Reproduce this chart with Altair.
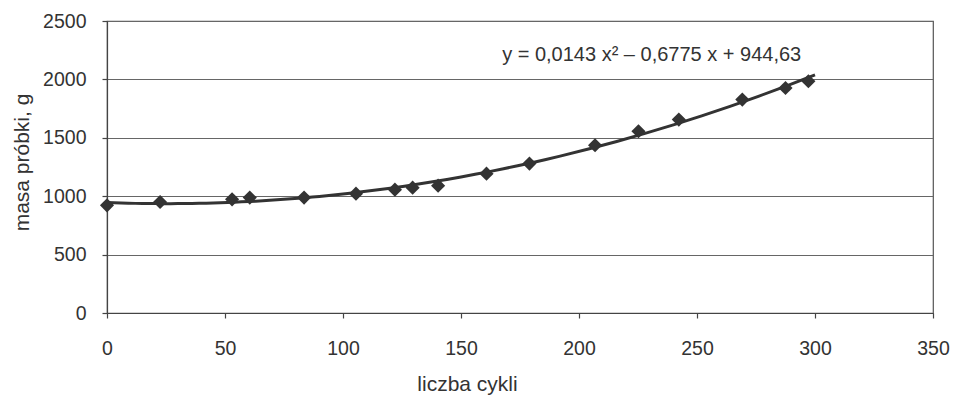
import altair as alt
import pandas as pd

# data
cycles = [0, 22.5, 53, 60.5, 83.5, 105.5, 122, 129.5, 140.3, 160.8, 179, 206.8, 225.2, 242.3, 269.2, 287.5, 297.2]
mass = [922, 950, 973, 988, 988, 1022, 1056, 1073, 1090, 1193, 1279, 1436, 1556, 1656, 1827, 1926, 1984]

x_ticks = [0, 50, 100, 150, 200, 250, 300, 350]
y_ticks = [0, 500, 1000, 1500, 2000, 2500]

equation_text = ["y = 0,0143 x\u00b2 \u2013 0,6775 x + 944,63"]
equation_pos_x = [230.8]
equation_pos_y = [2206]

df = pd.DataFrame({"x": cycles, "y": mass})
eq = pd.DataFrame({"x": equation_pos_x, "y": equation_pos_y, "t": equation_text})

FONT = "Liberation Sans"
INK = "#333333"

xs = alt.Scale(domain=[0, 350], nice=False)
ys = alt.Scale(domain=[0, 2500], nice=False)

x_enc = alt.X("x:Q", scale=xs, axis=alt.Axis(
    values=x_ticks, title="liczba cykli", grid=False, format="d", labelFlush=False,
    titleX=360, titleY=77, titleBaseline="alphabetic", titleAnchor="start", titleAlign="center",
    labelPadding=21, tickSize=5,
))
y_enc = alt.Y("y:Q", scale=ys, axis=alt.Axis(
    values=y_ticks, title="masa próbki, g", grid=True, format="d", labelFlush=False,
    titleX=-79, titleY=141, titleBaseline="alphabetic", titleAlign="center", titleAngle=-90,
    labelPadding=16, tickSize=5,
))

trend = alt.Chart(df).transform_regression(
    "x", "y", method="poly", order=2, extent=[0, 300]
).mark_line(color=INK, strokeWidth=3).encode(x=x_enc, y=y_enc)

pts = alt.Chart(df).mark_point(
    shape="diamond", filled=True, size=200, color=INK, opacity=1
).encode(x=alt.X("x:Q", scale=xs), y=alt.Y("y:Q", scale=ys))

label = alt.Chart(eq).mark_text(
    font=FONT, fontSize=20, color=INK, align="center", baseline="middle"
).encode(x=alt.X("x:Q", scale=xs), y=alt.Y("y:Q", scale=ys), text="t:N")

chart = alt.layer(trend, pts, label).properties(
    width=826, height=292,
    padding={"left": 99, "top": 13, "right": 19, "bottom": 82},
    autosize=alt.AutoSizeParams(type="none"),
    background="white",
).configure_axis(
    labelFont=FONT, labelFontSize=19.5, labelColor=INK,
    titleFont=FONT, titleFontSize=21, titleColor=INK, titleFontWeight="normal",
    domainColor="#444444", domainWidth=1.2, tickColor="#444444", tickWidth=1.2,
    gridColor="#666666", gridWidth=1.2,
).configure_view(stroke="#555555", strokeWidth=1.2)

chart.save("out.html", embed_options={"renderer": "svg", "actions": False})
